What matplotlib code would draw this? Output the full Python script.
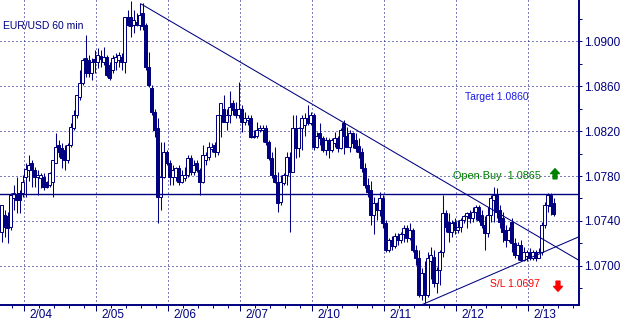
import matplotlib.pyplot as plt
import numpy as np
from matplotlib.transforms import blended_transform_factory

# hourly EUR/USD candles
opens = [1.0730, 1.0745, 1.0744, 1.0735, 1.0760, 1.0763, 1.0765, 1.0765, 1.0779, 1.0785,
         1.0792, 1.0785, 1.0779, 1.0778, 1.0779, 1.0775, 1.0772, 1.0775, 1.0792, 1.0808,
         1.0805, 1.0803, 1.0794, 1.0808, 1.0823, 1.0834, 1.0850, 1.0863, 1.0885, 1.0883,
         1.0872, 1.0884, 1.0881, 1.0887, 1.0881, 1.0886, 1.0879, 1.0874, 1.0881, 1.0883,
         1.0886, 1.0881, 1.0921, 1.0921, 1.0914, 1.0917, 1.0914, 1.0925, 1.0914, 1.0877,
         1.0858, 1.0837, 1.0823, 1.0761, 1.0779, 1.0801, 1.0792, 1.0779, 1.0779, 1.0787,
         1.0775, 1.0778, 1.0781, 1.0796, 1.0784, 1.0792, 1.0785, 1.0775, 1.0794, 1.0797,
         1.0804, 1.0808, 1.0801, 1.0834, 1.0840, 1.0828, 1.0834, 1.0845, 1.0840, 1.0834,
         1.0840, 1.0828, 1.0830, 1.0832, 1.0816, 1.0816, 1.0821, 1.0821, 1.0823, 1.0810,
         1.0796, 1.0781, 1.0775, 1.0757, 1.0774, 1.0781, 1.0797, 1.0784, 1.0823, 1.0805,
         1.0823, 1.0825, 1.0832, 1.0827, 1.0834, 1.0806, 1.0818, 1.0814, 1.0803, 1.0812,
         1.0803, 1.0809, 1.0814, 1.0805, 1.0827, 1.0816, 1.0806, 1.0818, 1.0812, 1.0807,
         1.0801, 1.0787, 1.0772, 1.0768, 1.0745, 1.0756, 1.0750, 1.0760, 1.0738, 1.0714,
         1.0723, 1.0718, 1.0727, 1.0723, 1.0728, 1.0734, 1.0725, 1.0732, 1.0714, 1.0707,
         1.0674, 1.0694, 1.0674, 1.0704, 1.0708, 1.0685, 1.0696, 1.0712, 1.0747, 1.0739,
         1.0730, 1.0739, 1.0732, 1.0735, 1.0741, 1.0744, 1.0747, 1.0743, 1.0748, 1.0752,
         1.0745, 1.0736, 1.0729, 1.0745, 1.0759, 1.0763, 1.0750, 1.0743, 1.0732, 1.0723,
         1.0739, 1.0720, 1.0710, 1.0719, 1.0705, 1.0709, 1.0712, 1.0707, 1.0712, 1.0707,
         1.0712, 1.0736, 1.0754, 1.0763, 1.0756]
highs = [1.0754, 1.0750, 1.0748, 1.0765, 1.0772, 1.0779, 1.0768, 1.0781, 1.0792, 1.0799,
         1.0794, 1.0788, 1.0785, 1.0783, 1.0783, 1.0776, 1.0784, 1.0794, 1.0818, 1.0812,
         1.0809, 1.0808, 1.0809, 1.0827, 1.0839, 1.0852, 1.0874, 1.0885, 1.0905, 1.0888,
         1.0885, 1.0892, 1.0894, 1.0892, 1.0895, 1.0888, 1.0881, 1.0888, 1.0889, 1.0890,
         1.0889, 1.0921, 1.0928, 1.0936, 1.0928, 1.0925, 1.0934, 1.0934, 1.0916, 1.0890,
         1.0861, 1.0840, 1.0832, 1.0810, 1.0810, 1.0803, 1.0794, 1.0790, 1.0788, 1.0790,
         1.0785, 1.0788, 1.0799, 1.0799, 1.0794, 1.0794, 1.0787, 1.0808, 1.0801, 1.0810,
         1.0809, 1.0810, 1.0834, 1.0845, 1.0852, 1.0840, 1.0856, 1.0848, 1.0846, 1.0864,
         1.0843, 1.0837, 1.0834, 1.0834, 1.0821, 1.0828, 1.0825, 1.0825, 1.0825, 1.0812,
         1.0801, 1.0806, 1.0784, 1.0781, 1.0783, 1.0801, 1.0801, 1.0834, 1.0834, 1.0824,
         1.0834, 1.0836, 1.0843, 1.0837, 1.0836, 1.0819, 1.0827, 1.0816, 1.0815, 1.0814,
         1.0814, 1.0819, 1.0816, 1.0823, 1.0830, 1.0824, 1.0821, 1.0819, 1.0818, 1.0814,
         1.0805, 1.0792, 1.0778, 1.0776, 1.0761, 1.0757, 1.0766, 1.0763, 1.0741, 1.0725,
         1.0727, 1.0729, 1.0729, 1.0730, 1.0736, 1.0736, 1.0738, 1.0734, 1.0719, 1.0714,
         1.0698, 1.0704, 1.0712, 1.0717, 1.0714, 1.0699, 1.0714, 1.0763, 1.0750, 1.0747,
         1.0741, 1.0743, 1.0741, 1.0743, 1.0745, 1.0748, 1.0750, 1.0752, 1.0754, 1.0754,
         1.0750, 1.0744, 1.0752, 1.0763, 1.0770, 1.0769, 1.0754, 1.0748, 1.0736, 1.0735,
         1.0743, 1.0725, 1.0721, 1.0723, 1.0717, 1.0714, 1.0716, 1.0714, 1.0714, 1.0716,
         1.0739, 1.0757, 1.0765, 1.0765, 1.0760]
lows = [1.0721, 1.0726, 1.0720, 1.0732, 1.0750, 1.0747, 1.0747, 1.0761, 1.0761, 1.0776,
        1.0770, 1.0770, 1.0763, 1.0769, 1.0768, 1.0769, 1.0770, 1.0761, 1.0792, 1.0797,
        1.0787, 1.0785, 1.0792, 1.0806, 1.0821, 1.0832, 1.0848, 1.0861, 1.0868, 1.0868,
        1.0865, 1.0872, 1.0876, 1.0877, 1.0879, 1.0868, 1.0865, 1.0872, 1.0874, 1.0877,
        1.0874, 1.0872, 1.0913, 1.0904, 1.0907, 1.0913, 1.0910, 1.0910, 1.0874, 1.0859,
        1.0834, 1.0815, 1.0738, 1.0750, 1.0778, 1.0790, 1.0772, 1.0772, 1.0776, 1.0772,
        1.0774, 1.0776, 1.0779, 1.0781, 1.0781, 1.0784, 1.0763, 1.0774, 1.0790, 1.0794,
        1.0801, 1.0797, 1.0799, 1.0815, 1.0828, 1.0821, 1.0827, 1.0834, 1.0832, 1.0832,
        1.0819, 1.0825, 1.0825, 1.0814, 1.0814, 1.0814, 1.0819, 1.0810, 1.0808, 1.0794,
        1.0778, 1.0774, 1.0748, 1.0754, 1.0772, 1.0772, 1.0730, 1.0784, 1.0796, 1.0797,
        1.0803, 1.0816, 1.0825, 1.0825, 1.0803, 1.0805, 1.0808, 1.0801, 1.0799, 1.0796,
        1.0801, 1.0806, 1.0801, 1.0804, 1.0800, 1.0806, 1.0801, 1.0805, 1.0801, 1.0796,
        1.0784, 1.0769, 1.0761, 1.0736, 1.0728, 1.0741, 1.0744, 1.0734, 1.0712, 1.0712,
        1.0714, 1.0716, 1.0719, 1.0720, 1.0721, 1.0721, 1.0723, 1.0712, 1.0701, 1.0672,
        1.0670, 1.0667, 1.0672, 1.0688, 1.0681, 1.0676, 1.0683, 1.0708, 1.0730, 1.0721,
        1.0726, 1.0728, 1.0729, 1.0730, 1.0738, 1.0734, 1.0738, 1.0739, 1.0741, 1.0739,
        1.0734, 1.0714, 1.0726, 1.0739, 1.0739, 1.0743, 1.0734, 1.0721, 1.0717, 1.0721,
        1.0712, 1.0707, 1.0705, 1.0704, 1.0704, 1.0704, 1.0705, 1.0705, 1.0704, 1.0707,
        1.0710, 1.0734, 1.0748, 1.0745, 1.0744]
closes = [1.0754, 1.0735, 1.0734, 1.0763, 1.0765, 1.0759, 1.0759, 1.0775, 1.0786, 1.0790,
          1.0785, 1.0779, 1.0781, 1.0781, 1.0770, 1.0770, 1.0783, 1.0794, 1.0806, 1.0801,
          1.0796, 1.0794, 1.0808, 1.0824, 1.0834, 1.0852, 1.0863, 1.0883, 1.0872, 1.0872,
          1.0881, 1.0881, 1.0888, 1.0884, 1.0886, 1.0870, 1.0867, 1.0885, 1.0886, 1.0888,
          1.0881, 1.0921, 1.0914, 1.0913, 1.0919, 1.0914, 1.0923, 1.0913, 1.0877, 1.0861,
          1.0837, 1.0821, 1.0761, 1.0779, 1.0801, 1.0792, 1.0779, 1.0785, 1.0787, 1.0775,
          1.0781, 1.0781, 1.0796, 1.0784, 1.0790, 1.0785, 1.0775, 1.0799, 1.0799, 1.0806,
          1.0806, 1.0801, 1.0834, 1.0845, 1.0828, 1.0834, 1.0841, 1.0839, 1.0834, 1.0840,
          1.0828, 1.0832, 1.0832, 1.0815, 1.0815, 1.0821, 1.0823, 1.0823, 1.0810, 1.0796,
          1.0781, 1.0775, 1.0756, 1.0775, 1.0781, 1.0797, 1.0784, 1.0823, 1.0805, 1.0823,
          1.0832, 1.0832, 1.0827, 1.0834, 1.0806, 1.0816, 1.0814, 1.0803, 1.0812, 1.0803,
          1.0812, 1.0814, 1.0805, 1.0821, 1.0816, 1.0806, 1.0818, 1.0809, 1.0805, 1.0801,
          1.0787, 1.0772, 1.0766, 1.0745, 1.0756, 1.0750, 1.0760, 1.0738, 1.0714, 1.0723,
          1.0718, 1.0727, 1.0723, 1.0728, 1.0734, 1.0725, 1.0732, 1.0714, 1.0707, 1.0674,
          1.0694, 1.0674, 1.0707, 1.0710, 1.0685, 1.0696, 1.0712, 1.0747, 1.0735, 1.0730,
          1.0738, 1.0732, 1.0735, 1.0741, 1.0744, 1.0747, 1.0743, 1.0748, 1.0752, 1.0741,
          1.0736, 1.0729, 1.0745, 1.0760, 1.0763, 1.0748, 1.0739, 1.0730, 1.0723, 1.0732,
          1.0720, 1.0710, 1.0719, 1.0705, 1.0712, 1.0712, 1.0707, 1.0712, 1.0707, 1.0712,
          1.0736, 1.0754, 1.0763, 1.0753, 1.0746]

day_labels = ['2/04', '2/05', '2/06', '2/07', '2/10', '2/11', '2/12', '2/13']
first_day_bar = 8
bars_per_day = 24

price_ticks = [1.0700, 1.0740, 1.0780, 1.0820, 1.0860, 1.0900]
level_line = 1.0764
down_trend_x = [46.5, 192.5]
down_trend_y = [1.0933, 1.0705]
up_trend_x = [140.5, 192.5]
up_trend_y = [1.0666, 1.0726]

target = 1.0860
open_buy = 1.0865
stop_loss = 1.0697

navy = '#000080'
plt.rcParams['font.family'] = ['Liberation Sans', 'DejaVu Sans']
plt.rcParams['lines.scale_dashes'] = False
dots = (0, (0.72, 2.16))

fig = plt.figure(figsize=(6.28, 3.21), dpi=100)
ax_h = 305 / 321
ax = fig.add_axes([0, 16 / 321, 579 / 628, ax_h])

o = np.array(opens)
h = np.array(highs)
l = np.array(lows)
c = np.array(closes)
x = np.arange(len(o))
up = c >= o

# candles
ax.vlines(x, l, h, color=navy, lw=0.75, zorder=3)
ax.bar(x[up], c[up] - o[up], bottom=o[up], width=0.67, facecolor='white',
       edgecolor=navy, lw=0.72, zorder=4)
ax.bar(x[~up], o[~up] - c[~up], bottom=c[~up], width=0.67, facecolor=navy,
       edgecolor=navy, lw=0.72, zorder=4)

# lines
ax.axhline(level_line, color=navy, lw=1.0, zorder=5)
ax.plot(down_trend_x, down_trend_y, color=navy, lw=0.75, zorder=5)
ax.plot(up_trend_x, up_trend_y, color=navy, lw=0.75, zorder=5)

# ticks
x_lo, x_hi = -0.5, 192.5
seps = [first_day_bar - 0.5 + bars_per_day * i for i in range(len(day_labels))]
minor_x = [s + 5 * j for s in [seps[0] - bars_per_day] + seps for j in range(1, 5)]
minor_x = [m for m in minor_x if x_lo < m < x_hi]
ax.set_xticks(seps)
ax.set_xticks(minor_x, minor=True)
ax.tick_params(axis='x', labelbottom=False)

# date labels sit a little right of each day separator
trans = blended_transform_factory(ax.transData, ax.transAxes)
for s, lab in zip(seps, day_labels):
    ax.text(s + 5 / 3, -13.5 / 305, lab, transform=trans, color=navy,
            fontsize=8.5, ha='left', va='baseline', clip_on=False)

ax.yaxis.tick_right()
ax.set_yticks(price_ticks)
ax.set_yticks([p + 0.002 for p in [1.0660] + price_ticks], minor=True)
ax.set_yticklabels(['%.4f' % p for p in price_ticks])

ax.set_xlim(x_lo, x_hi)
ax.set_ylim(1.06653, 1.09365)

ax.grid(True, which='major', color=navy, linestyle=dots, lw=0.72)
ax.tick_params(axis='x', which='major', length=4.3, width=0.72, color=navy)
ax.tick_params(axis='x', which='minor', length=2.2, width=0.72, color=navy)
ax.tick_params(axis='y', which='both', length=2.4, width=0.72, color=navy,
               labelcolor=navy, labelsize=8.5, pad=1)

for side in ['left', 'top']:
    ax.spines[side].set_visible(False)
for side in ['right', 'bottom']:
    ax.spines[side].set_color(navy)
    ax.spines[side].set_linewidth(1.4)

# annotations
ax.text(3 / 579, 1 - 26 / 305, 'EUR/USD 60 min', transform=ax.transAxes,
        color=navy, fontsize=7.5, va='center')
ax.text(154.5, 1.0850, 'Target %.4f' % target, color='#1a1ae6', fontsize=7.5, va='center')
ax.text(150.5, 1.0780, 'Open Buy  %.4f' % open_buy, color='#008000', fontsize=7.8,
        va='center', zorder=6)
ax.text(162.8, 1.0684, 'S/L %.4f' % stop_loss, color='#ff0000', fontsize=7.5, va='center')

ax.annotate('', xy=(184.5, 1.07865), xytext=(184.5, 1.07775),
            arrowprops=dict(arrowstyle='simple,head_length=0.5,head_width=0.9,tail_width=0.4',
                            color='#008000', shrinkA=0, shrinkB=0, mutation_scale=7))
ax.annotate('', xy=(185.5, 1.06775), xytext=(185.5, 1.06865),
            arrowprops=dict(arrowstyle='simple,head_length=0.5,head_width=0.9,tail_width=0.4',
                            color='#ff0000', shrinkA=0, shrinkB=0, mutation_scale=7))

fig.savefig('out.png', dpi=100)
